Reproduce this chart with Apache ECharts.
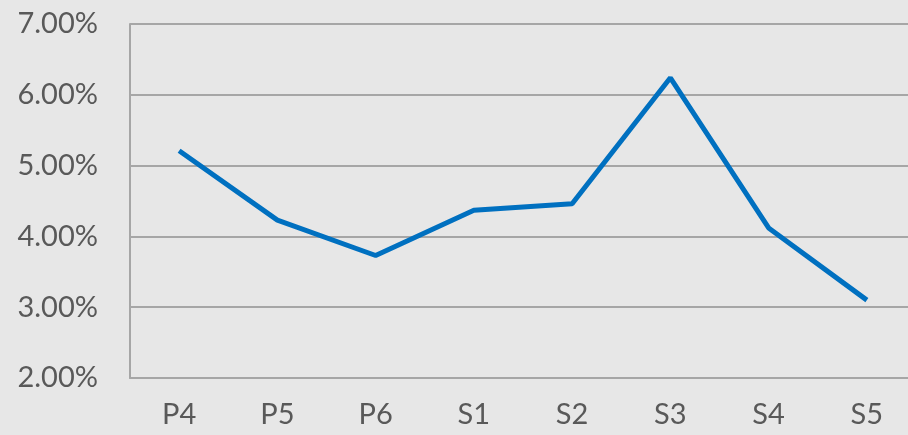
<!DOCTYPE html>
<html>
<head>
    <meta charset="UTF-8">
    <script src="https://cdn.jsdelivr.net/npm/echarts@6/dist/echarts.min.js"></script>
    <style>
        html, body { margin: 0; padding: 0; background: #e7e7e7; overflow: hidden; }
    </style>
</head>
<body>
<!-- chart is a bit wider than the window: the plot runs past the right edge -->
<div id="main" style="width: 916px;height:435px;"></div>
<script>
    var categories = ['P4', 'P5', 'P6', 'S1', 'S2', 'S3', 'S4', 'S5'];
    var rates = [5.21, 4.23, 3.73, 4.37, 4.46, 6.24, 4.12, 3.10];

    var myChart = echarts.init(document.getElementById('main'));
    var option = {
        backgroundColor: '#e7e7e7',
        animation: false,
        grid: {left: 130, right: 0, top: 24, bottom: 57},
        xAxis: {
            type: 'category',
            data: categories,
            axisLine: {lineStyle: {color: '#a6a6a6', width: 2}},
            axisTick: {show: false},
            axisLabel: {
                color: '#595959', fontSize: 29, fontFamily: 'Lato', margin: 22
            }
        },
        yAxis: {
            type: 'value',
            min: 2, max: 7, interval: 1,
            axisLine: {show: true, lineStyle: {color: '#a6a6a6', width: 2}},
            axisTick: {show: false},
            splitLine: {lineStyle: {color: '#a6a6a6', width: 2}},
            axisLabel: {
                color: '#595959', fontSize: 29, fontFamily: 'Lato', margin: 32,
                formatter: function (v) { return v.toFixed(2) + '%'; }
            }
        },
        series: [{
            type: 'line',
            data: rates,
            symbol: 'none',
            lineStyle: {color: '#0070c0', width: 5}
        }]
    };
    myChart.setOption(option);
</script>
</body>
</html>
